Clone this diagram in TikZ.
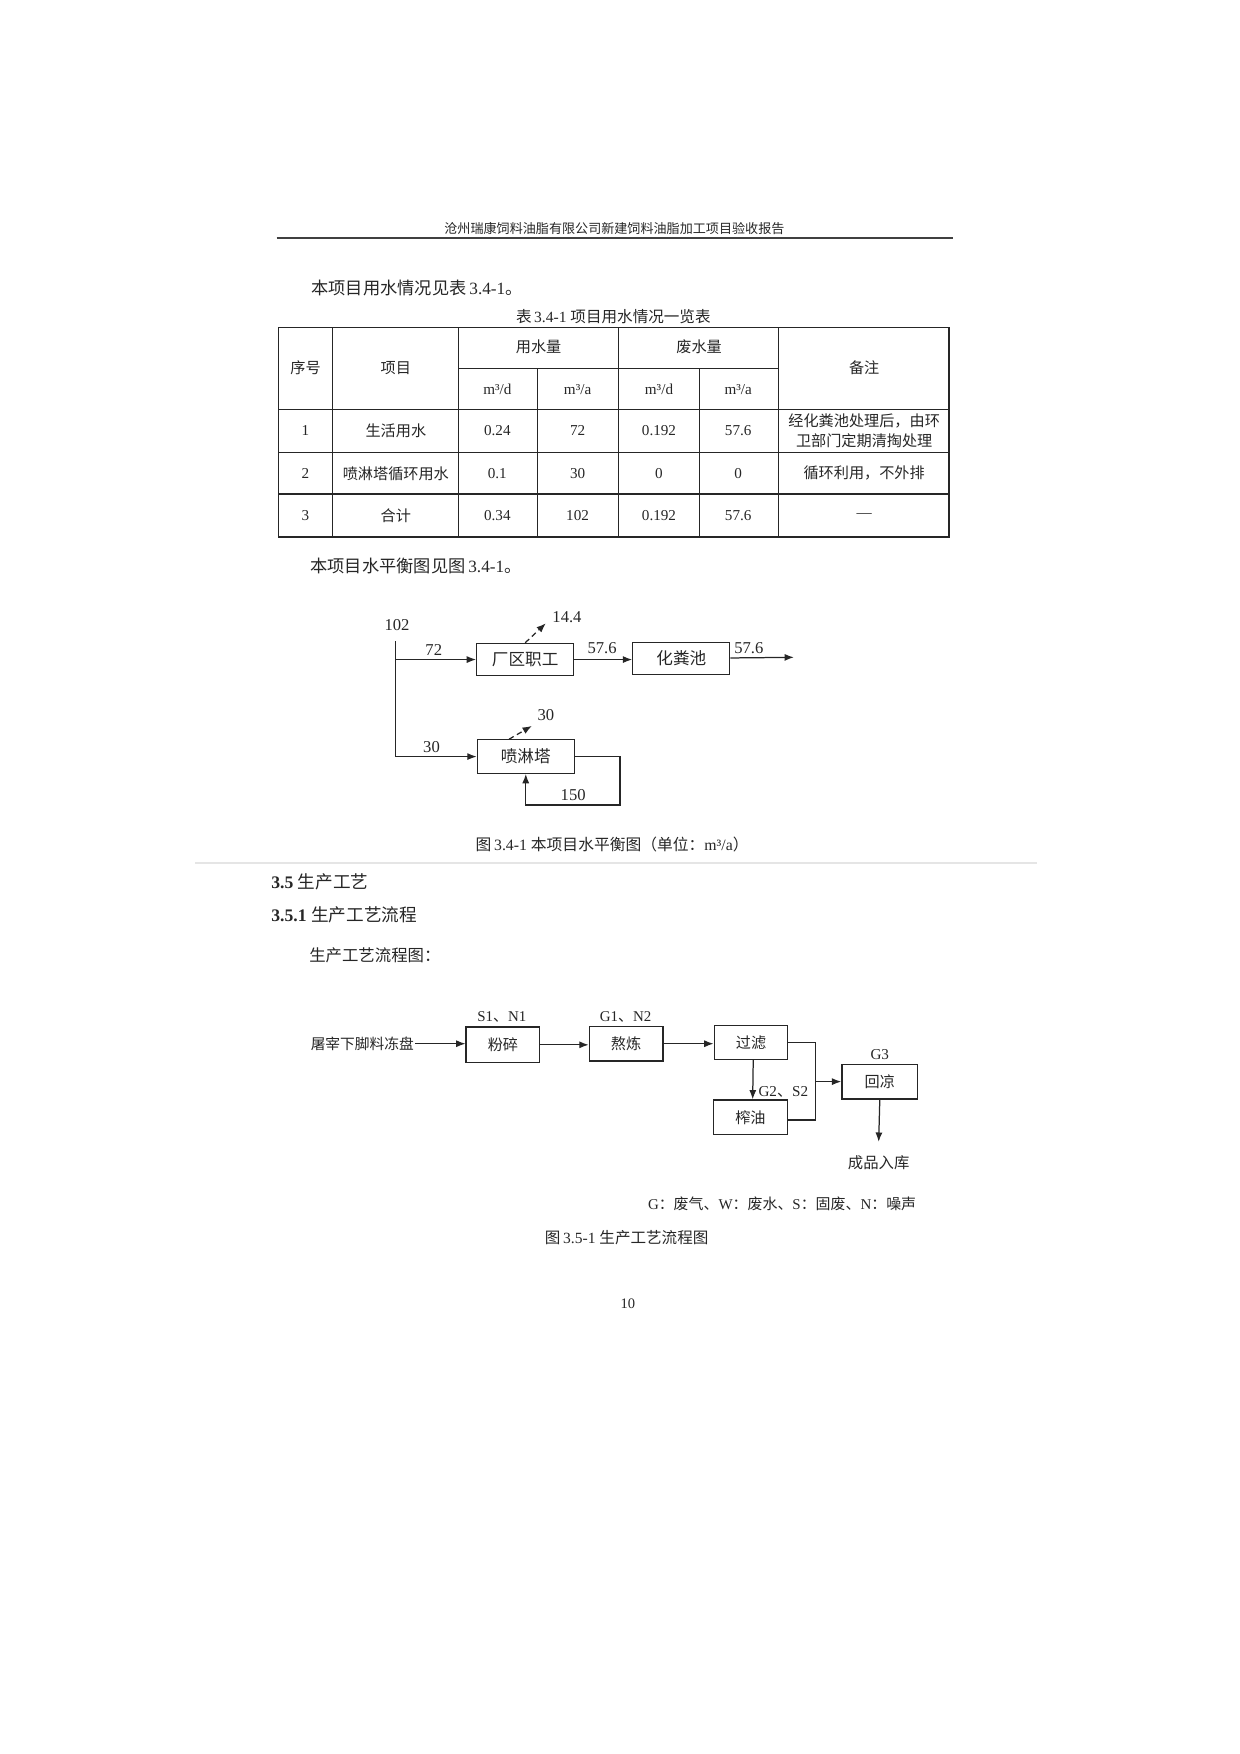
\documentclass[tikz,border=0pt]{standalone}
\usepackage{fontspec}
\setmainfont{Liberation Serif}
\newfontfamily\cjk{Noto Sans CJK SC}
\usepackage{tikz}
\usetikzlibrary{arrows,arrows.meta,positioning,calc}
\newcommand\pxu{0.18881mm}
\newcommand\zh[1]{{\cjk #1}}
\newcommand\fsz[1]{\fontsize{#1}{#1}\selectfont}

\begin{document}
\begin{tikzpicture}[
    x=0.18881mm, y=-0.18881mm,
    every node/.style={text=black!85},
    wbox/.style={rectangle, draw=black!85, line width=0.6pt, minimum width=87*\pxu, minimum height=29*\pxu, inner sep=0pt, font=\fsz{8}\cjk},
    pbox/.style={rectangle, draw=black!85, line width=0.6pt, minimum width=66*\pxu, minimum height=31*\pxu, inner sep=0pt, font=\fsz{7.3}\cjk},
    num/.style={inner sep=0pt, font=\fsz{8}},
    tag/.style={inner sep=0pt, font=\fsz{7.2}},
    cell/.style={inner sep=0pt, font=\fsz{7.3}},
    zcell/.style={inner sep=0pt, font=\fsz{7.3}\cjk},
    body/.style={anchor=west, inner sep=0pt, font=\fsz{8}},
    arrow/.style={->, >={Latex[length=4.5pt,width=3.4pt]}, line width=0.6pt, draw=black!85},
    loss/.style={arrow, dash pattern=on 2.6pt off 1.8pt},
    wire/.style={line width=0.6pt, draw=black!85}
]
    \useasboundingbox (0,0) rectangle (1112,1573);

    % page header
    \node[font=\fsz{6.3}\cjk] (head) at (551,205) {沧州瑞康饲料油脂有限公司新建饲料油脂加工项目验收报告};
    \draw[black!75, line width=0.8pt] (248,213.5) -- (855,213.5);

    \node[body, font=\fsz{8.3}] (intro) at (279,258) {\zh{本项目用水情况见表}\,3.4-1\zh{。}};
    \node[font=\fsz{7.5}] (tcap) at (550,284) {\zh{表}\,3.4-1\ \zh{项目用水情况一览表}};

    % table 3.4-1
    \begin{scope}[black!85, line width=0.6pt]
        \draw (250,293.5) rectangle (851,481.5);
        \draw (411,330.5) -- (698,330.5);
        \foreach \ry in {367.5,405.5,443}
            \draw (250,\ry) -- (851,\ry);
        \foreach \cx in {298,411,555,698}
            \draw (\cx,293.5) -- (\cx,481.5);
        \foreach \cx in {482,627}
            \draw (\cx,330.5) -- (\cx,481.5);
    \end{scope}

    \node[zcell] (hno) at (274,330) {序号};
    \node[zcell] (hitem) at (355,330) {项目};
    \node[zcell] (huse) at (483,311) {用水量};
    \node[zcell] (hwaste) at (627,311) {废水量};
    \node[zcell] (hnote) at (775,330) {备注};
    \node[cell] (hud) at (446,349) {m³/d};
    \node[cell] (hua) at (518,349) {m³/a};
    \node[cell] (hwd) at (591,349) {m³/d};
    \node[cell] (hwa) at (662,349) {m³/a};

    \foreach \r/\yy/\nm/\da/\ya/\dw/\yw in {1/386.5/生活用水/0.24/72/0.192/57.6,
                                            2/424.5/喷淋塔循环用水/0.1/30/0/0,
                                            3/462.5/合计/0.34/102/0.192/57.6}{
        \node[cell] (no\r) at (274,\yy) {\r};
        \node[zcell] (item\r) at (355,\yy) {\nm};
        \node[cell] (ud\r) at (446,\yy) {\da};
        \node[cell] (ua\r) at (518,\yy) {\ya};
        \node[cell] (wd\r) at (591,\yy) {\dw};
        \node[cell] (wa\r) at (662,\yy) {\yw};
    }
    \node[zcell, align=center, font=\fontsize{7.3}{9.5}\selectfont\cjk] (note1) at (775,386.5) {经化粪池处理后，由环\\卫部门定期清掏处理};
    \node[zcell] (note2) at (775,424.5) {循环利用，不外排};
    \node[cell] (note3) at (775,462.5) {—};

    \node[body, font=\fsz{8.3}] (intro2) at (278,508) {\zh{本项目水平衡图见图}\,3.4-1\zh{。}};

    % water balance
    \node[num] (src) at (356,561) {102};
    \coordinate (trunk) at (355,575);
    \node[wbox] (staff) at (471,591.5) {厂区职工};
    \node[wbox] (tank) at (611,590.5) {化粪池};
    \node[wbox, minimum height=30*\pxu] (tower) at (471.5,678.5) {喷淋塔};
    \coordinate (drain) at (712,589.5);
    \coordinate (loopc) at (556,722);
    \coordinate (lossA) at (489.5,559);
    \coordinate (lossB) at (477,651);

    \draw[wire] (trunk) -- (trunk |- tower.west);
    \draw[arrow] (trunk |- staff.west) -- (staff.west);
    \draw[arrow] (trunk |- tower.west) -- (tower.west);
    \draw[arrow] (staff.east) -- (tank.west |- staff.east);
    \draw[arrow] (tank) -- (drain);
    \draw[arrow] (tower.east) -| (loopc) -| (tower.south);
    \draw[loss] (staff.north) -- (lossA);
    \draw[loss] ($(tower.north)+(-15,0)$) -- (lossB);

    \node[num] (q72) at (389,583) {72};
    \node[num] (q30) at (387,670) {30};
    \node[num] (q144) at (508.5,553.5) {14.4};
    \node[num] (q576a) at (540,581.5) {57.6};
    \node[num] (q576b) at (671.5,581) {57.6};
    \node[num] (qevap) at (489.5,641.5) {30};
    \node[num] (q150) at (514,713) {150};

    \node[font=\fsz{7.6}] (figA) at (549,757) {\zh{图}\,3.4-1\ \zh{本项目水平衡图（单位：}m³/a\zh{）}};
    \draw[black!10, line width=0.8pt] (175,774) -- (930,774);

    % section 3.5
    \node[body, font=\fsz{8.5}] (sec) at (243,791) {\textbf{3.5} \zh{生产工艺}};
    \node[body, font=\fsz{8.5}] (subsec) at (243,820) {\textbf{3.5.1} \zh{生产工艺流程}};
    \node[body, font=\fsz{7.9}] (intro3) at (277,857) {\zh{生产工艺流程图：}};

    % process flow
    \node[anchor=east, inner sep=0.5pt, font=\fsz{7.1}\cjk] (raw) at (372.5,936) {屠宰下脚料冻盘};
    \node[pbox, minimum height=32*\pxu] (crush) at (451,937) {粉碎};
    \node[pbox] (render) at (561.5,936) {熬炼};
    \node[pbox, minimum height=30*\pxu] (filter) at (673.5,935) {过滤};
    \node[pbox] (press) at (673,1002) {榨油};
    \node[pbox, minimum width=68*\pxu] (cool) at (789,970) {回凉};
    \coordinate (join) at (731,970);
    \coordinate (store) at (788,1024);

    \draw[arrow] (raw.east) -- (crush.west |- raw.east);
    \draw[arrow] (crush.east) -- (render.west |- crush.east);
    \draw[arrow] (render.east) -- (filter.west |- render.east);
    \draw[arrow] ([xshift=2*\pxu]filter.south) -- ([xshift=2*\pxu]press.north);
    \draw[wire] (filter.east) -| (join);
    \draw[wire] ([yshift=-2.5*\pxu]press.east) -| (join);
    \draw[arrow] (join) -- (cool);
    \draw[arrow] (cool.south) -- (store);

    \node[tag] (emA) at (450,912) {S1\zh{、}N1};
    \node[tag] (emB) at (561,912) {G1\zh{、}N2};
    \node[tag, font=\fsz{7.3}] (emC) at (702.5,979) {G2\zh{、}S2};
    \node[tag, font=\fsz{7.3}] (emD) at (789,946) {G3};
    \node[zcell, font=\fsz{7.4}\cjk] (prod) at (788,1043) {成品入库};
    \node[anchor=east, inner sep=0pt, font=\fsz{7.2}] (legend) at (822,1080) {G\zh{：废气、}W\zh{：废水、}S\zh{：固废、}N\zh{：噪声}};

    \node[font=\fsz{7.5}] (figB) at (562,1110) {\zh{图}\,3.5-1\ \zh{生产工艺流程图}};
    \node[font=\fsz{7}] (pg) at (563,1169) {10};
\end{tikzpicture}
\end{document}
